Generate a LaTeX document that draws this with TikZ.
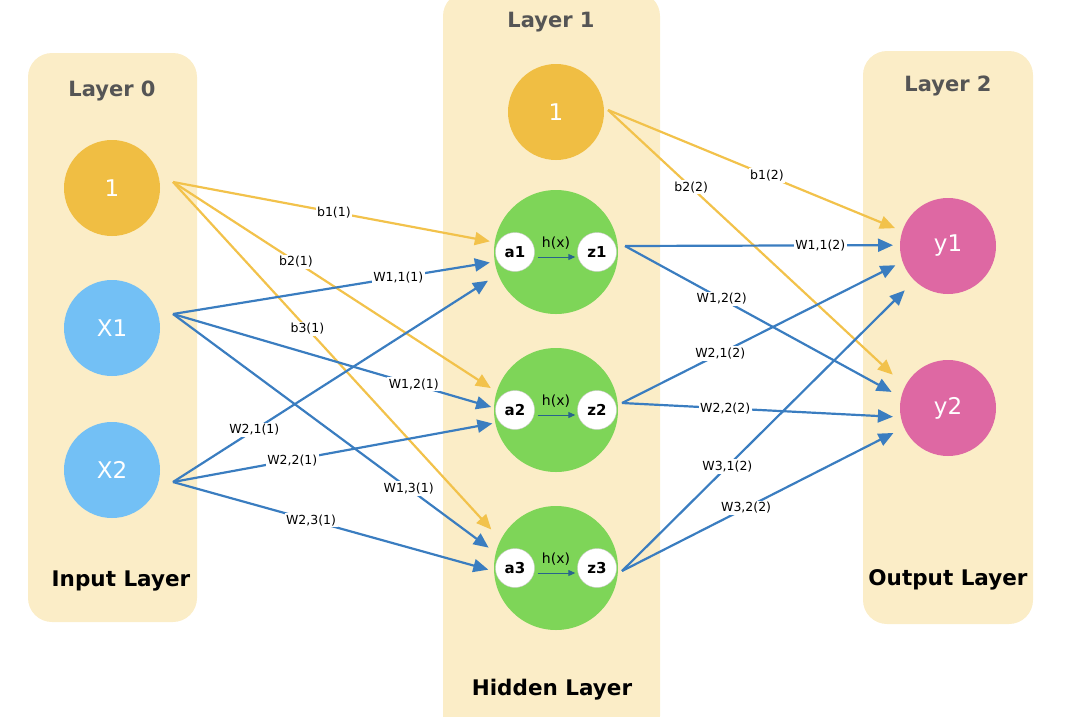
\documentclass[tikz,border=0pt]{standalone}
\usepackage{fontspec}
\setmainfont{DejaVu Sans}
\usetikzlibrary{arrows.meta}

\definecolor{boxcream}{RGB}{251,237,199}
\definecolor{biasyel}{RGB}{240,190,67}
\definecolor{inblue}{RGB}{115,192,245}
\definecolor{hidgreen}{RGB}{126,213,88}
\definecolor{outpink}{RGB}{222,104,163}
\definecolor{wblue}{RGB}{58,125,192}
\definecolor{byel}{RGB}{242,194,75}
\definecolor{titlegray}{RGB}{85,85,85}
\definecolor{hxblue}{RGB}{40,100,140}

\begin{document}
\begin{tikzpicture}[x=1pt,y=-1pt]
\tikzstyle{layerbox}=[fill=boxcream,rounded corners=24pt]
\tikzstyle{title}=[text=titlegray,font=\fontsize{21}{21}\selectfont\bfseries]
\tikzstyle{lname}=[font=\fontsize{21.5}{21.5}\selectfont\bfseries]
\tikzstyle{unit}=[circle,minimum size=96pt,inner sep=0pt,outer sep=0pt,text=white,font=\fontsize{23}{23}\selectfont]
\tikzstyle{hid}=[circle,minimum size=124pt,inner sep=0pt,outer sep=0pt,fill=hidgreen]
\tikzstyle{sub}=[circle,minimum size=39pt,inner sep=0pt,fill=white,draw=black!20,font=\fontsize{15}{15}\selectfont\bfseries]
\tikzstyle{hx}=[draw=hxblue,line width=0.9pt,-{Triangle[length=7pt,width=6pt]},shorten <=3pt,shorten >=2pt]
\tikzstyle{wt}=[fill=white,inner sep=1.5pt,font=\fontsize{12.5}{12.5}\selectfont]
\tikzstyle{bedge}=[draw=byel,line width=2.2pt,-{Triangle[length=15pt,width=13pt]}]
\tikzstyle{wedge}=[draw=wblue,line width=2.2pt,-{Triangle[length=15pt,width=13pt]}]

\clip (0,0) rectangle (1080,716);
\useasboundingbox (0,0) rectangle (1080,716);

% layer panels
\fill[layerbox] (28,53) rectangle (197,622);
\fill[layerbox] (443,-8) rectangle (660,740);
\fill[layerbox] (863,51) rectangle (1033,624);

\node[title] (t0) at (112,91) {Layer 0};
\node[title] (t1) at (551,22) {Layer 1};
\node[title] (t2) at (948,86) {Layer 2};
\node[lname] (n0) at (121,581) {Input Layer};
\node[lname] (n1) at (552,690) {Hidden Layer};
\node[lname] (n2) at (948,580) {Output Layer};

% units
\node[unit,fill=biasyel] (b0) at (112,188) {1};
\node[unit,fill=inblue] (x1) at (112,328) {X1};
\node[unit,fill=inblue] (x2) at (112,470) {X2};
\node[unit,fill=biasyel] (b1) at (556,112) {1};
\node[hid] (h1) at (556,252) {};
\node[hid] (h2) at (556,410) {};
\node[hid] (h3) at (556,568) {};
\node[unit,fill=outpink] (y1) at (948,246) {y1};
\node[unit,fill=outpink] (y2) at (948,408) {y2};

\foreach \i in {1,2,3} {
  \node[sub] (a\i) at ([xshift=-41pt]h\i.center) {a\i};
  \node[sub] (z\i) at ([xshift=41pt]h\i.center) {z\i};
  \draw[hx] ([yshift=-5pt]a\i.east) -- node[above=4pt,font=\fontsize{14}{14}\selectfont]{h(x)} ([yshift=-5pt]z\i.west);
}

% edge start points
\coordinate (b0o) at (173,182);
\coordinate (x1o) at (173,314);
\coordinate (x2o) at (173,482);
\coordinate (b1o) at (608,110);
\coordinate (z1o) at (625,246);
\coordinate (z2o) at (622,403);
\coordinate (z3o) at (622,571);

% bias edges
\foreach \s/\t/\cut/\p/\txt in {b0o/h1.171/5/0.5/b1(1), b0o/h2.163/7/0.38/b2(1),
    b0o/h3.153/14/0.41/b3(1), b1o/y1.162/8/0.54/b1(2), b1o/y2.153/17/0.28/b2(2)}
  \draw[bedge,shorten >=\cut pt] (\s) -- node[wt,pos=\p]{\txt} (\t);

% weight edges
\foreach \s/\t/\cut/\p/\txt in {{x1o/h1.189/5/0.7/W1,1(1)}, {x1o/h2.178/3/0.75/W1,2(1)},
    {x1o/h3.166/9/0.73/W1,3(1)}, {x2o/h1.201/12/0.25/W2,1(1)},
    {x2o/h2.192/3/0.37/W2,2(1)}, {x2o/h3.183/6/0.43/W2,3(1)},
    {z1o/y1.179/7/0.71/W1,1(2)}, {z1o/y2.167/11/0.35/W1,2(2)},
    {z2o/y1.199/8/0.35/W2,1(2)}, {z2o/y2.191/8/0.37/W2,2(2)},
    {z3o/y1.226/14/0.36/W3,1(2)}, {z3o/y2.204/12/0.44/W3,2(2)}}
  \draw[wedge,shorten >=\cut pt] (\s) -- node[wt,pos=\p]{\txt} (\t);
\end{tikzpicture}
\end{document}
